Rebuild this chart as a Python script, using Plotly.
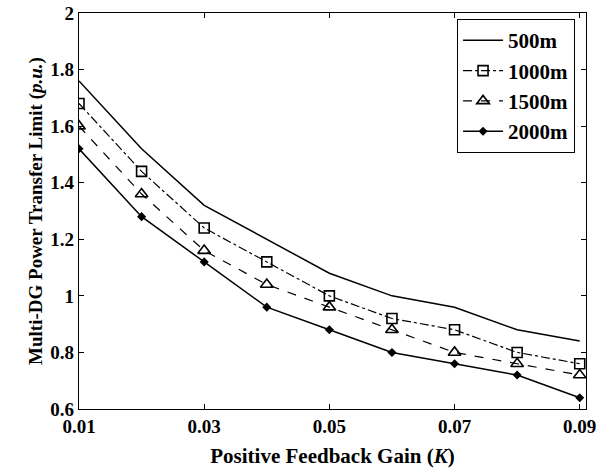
import plotly.graph_objects as go

gain = [0.01, 0.02, 0.03, 0.04, 0.05, 0.06, 0.07, 0.08, 0.09]
s500 = [1.76, 1.52, 1.32, 1.20, 1.08, 1.00, 0.96, 0.88, 0.84]
s1000 = [1.68, 1.44, 1.24, 1.12, 1.00, 0.92, 0.88, 0.80, 0.76]
s1500 = [1.60, 1.36, 1.16, 1.04, 0.96, 0.88, 0.80, 0.76, 0.72]
s2000 = [1.52, 1.28, 1.12, 0.96, 0.88, 0.80, 0.76, 0.72, 0.64]
x_ticks = [0.01, 0.03, 0.05, 0.07, 0.09]
x_tick_labels = ["0.01", "0.03", "0.05", "0.07", "0.09"]
y_ticks = [0.6, 0.8, 1.0, 1.2, 1.4, 1.6, 1.8, 2.0]
y_tick_labels = ["0.6", "0.8", "1", "1.2", "1.4", "1.6", "1.8", "2"]

font = "Liberation Serif"
bf = lambda s: dict(family=font, size=s, color="black", weight="bold")

fig = go.Figure()
fig.add_trace(go.Scatter(x=gain, y=s500, name="500m", mode="lines",
                         line=dict(color="black", width=1.5)))
fig.add_trace(go.Scatter(x=gain, y=s1000, name="1000m", mode="lines+markers",
                         line=dict(color="black", width=1.2, dash="dashdot"),
                         marker=dict(symbol="square-open", size=10, color="black",
                                     line=dict(width=1.6))))
fig.add_trace(go.Scatter(x=gain, y=s1500, name="1500m", mode="lines+markers",
                         line=dict(color="black", width=1.2, dash="dash"),
                         marker=dict(symbol="triangle-up-open", size=11, color="black",
                                     line=dict(width=1.6))))
fig.add_trace(go.Scatter(x=gain, y=s2000, name="2000m", mode="lines+markers",
                         line=dict(color="black", width=1.5),
                         marker=dict(symbol="diamond", size=7, color="black")))

axis_common = dict(showgrid=False, zeroline=False, showline=True, linecolor="black",
                   linewidth=1.2, mirror="ticks", ticks="inside", ticklen=5,
                   tickcolor="black", tickfont=bf(19), ticklabeloverflow="allow",
                   automargin=False)
fig.update_xaxes(range=[0.01, 0.091], tickvals=x_ticks, ticktext=x_tick_labels,
                 title=dict(text="Positive Feedback Gain (<i>K</i>)", font=bf(21), standoff=12),
                 **axis_common)
fig.update_yaxes(range=[0.6, 2.0], tickvals=y_ticks, ticktext=y_tick_labels,
                 title=dict(text="Multi-DG Power Transfer Limit (<i>p.u.</i>)", font=bf(19),
                            standoff=2),
                 **axis_common)
fig.update_layout(
    width=600, height=468,
    margin=dict(l=79, r=14, t=13, b=59, autoexpand=False),
    plot_bgcolor="white", paper_bgcolor="white",
    font=dict(family=font, color="black"),
    legend=dict(x=0.978, y=0.985, xanchor="right", yanchor="top",
                bgcolor="white", bordercolor="black", borderwidth=1.2,
                font=bf(21), tracegroupgap=0, itemwidth=40),
)
fig.write_html("out.html")
